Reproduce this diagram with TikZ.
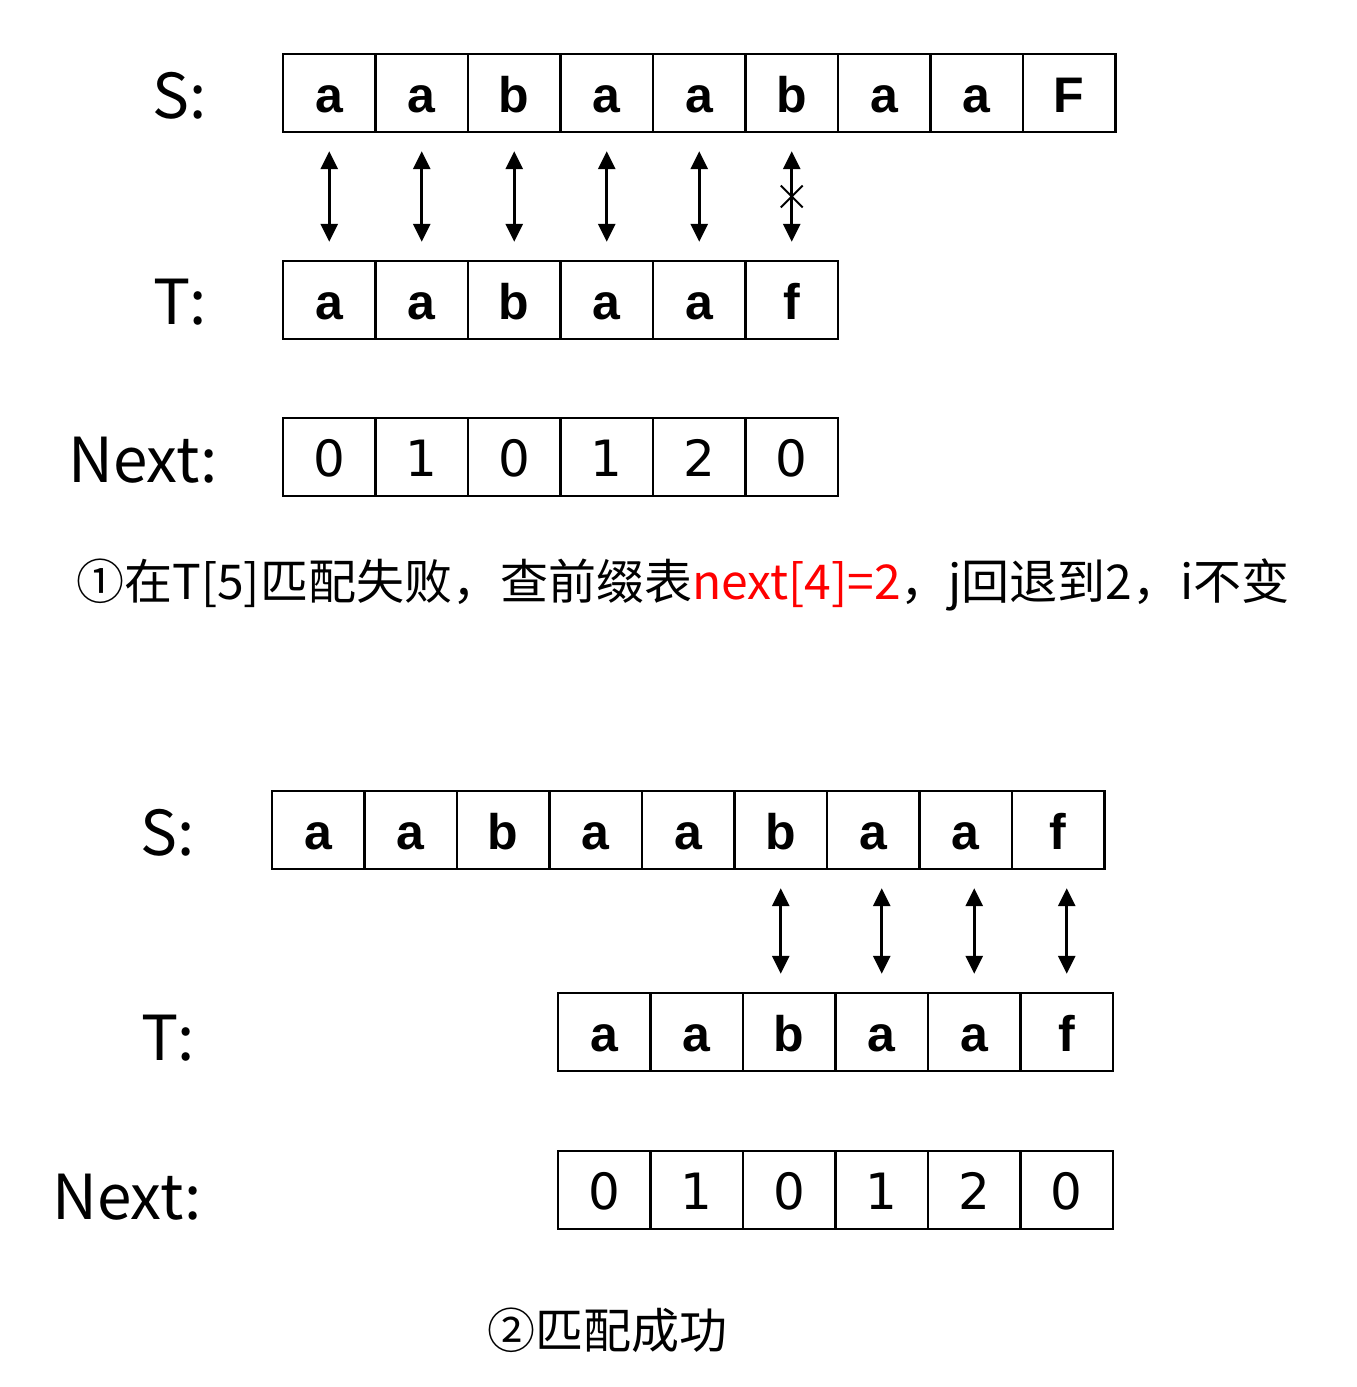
\documentclass[tikz,border=0pt]{standalone}
\usepackage{fontspec}
\setmainfont{Liberation Sans}
\newfontfamily\cjk{Noto Sans CJK SC}
\newfontfamily\numfont{DejaVu Sans}
\usetikzlibrary{arrows.meta,shapes.misc}

\tikzset{
  cell/.style={draw, line width=1.2pt, minimum width=46.25pt, minimum height=39pt,
    inner sep=0pt, text height=19pt, text depth=0pt, font=\fontsize{25}{30}\selectfont\bfseries},
  numcell/.style={cell, font=\fontsize{25}{30}\numfont},
  lbl/.style={font=\fontsize{31}{37}\cjk},
  captext/.style={font=\fontsize{24}{29}\cjk},
  match/.style={line width=1.5pt, {Triangle[width=8.5pt,length=9pt]}-{Triangle[width=8.5pt,length=9pt]},
    shorten <=9pt, shorten >=9pt},
  xmark/.style={cross out, draw, line width=0.9pt, minimum size=10pt, inner sep=0pt}
}

\begin{document}
\begin{tikzpicture}[x=0.5pt, y=-0.5pt]
  \useasboundingbox (0,0) rectangle (1356,1387);
  % labels
  \node[lbl] (sl) at (180,96) {S:};
  \node[lbl] (tl) at (180,302) {T:};
  \node[lbl] (nl) at (143,460) {Next:};
  % main string, pattern, next table
  \foreach \c [count=\i] in {a,a,b,a,a,b,a,a,F}
    \node[cell] (s\i) at ({329.25+92.5*(\i-1)},93) {\c};
  \foreach \c [count=\i] in {a,a,b,a,a,f}
    \node[cell] (t\i) at ({329.25+92.5*(\i-1)},300) {\c};
  \foreach \c [count=\i] in {0,1,0,1,2,0}
    \node[numcell] (n\i) at ({329.25+92.5*(\i-1)},457) {\c};
  % comparisons
  \foreach \i in {1,...,6}
    \draw[match] (s\i) -- (t\i);
  \path (s6) -- coordinate[pos=.5] (m6) (t6);
  \node[xmark] (x6) at (m6) {};
  \node[captext] (c1) at (683,585) {①在T[5]匹配失败，查前缀表\textcolor{red}{next[4]=2}，j回退到2，i不变};

  % labels
  \node[lbl] (bsl) at (168,833) {S:};
  \node[lbl] (btl) at (168,1038) {T:};
  \node[lbl] (bnl) at (127,1197) {Next:};
  % shifted pattern
  \foreach \c [count=\i] in {a,a,b,a,a,b,a,a,f}
    \node[cell] (bs\i) at ({318.25+92.5*(\i-1)},830) {\c};
  \foreach \c [count=\i] in {a,a,b,a,a,f}
    \node[cell] (bt\i) at ({604.25+92.5*(\i-1)},1032) {\c};
  \foreach \c [count=\i] in {0,1,0,1,2,0}
    \node[numcell] (bn\i) at ({604.25+92.5*(\i-1)},1190) {\c};
  % comparisons
  \draw[match] (bs6) -- (bs6 |- bt3.north);
  \foreach \i/\j in {4/7,5/8,6/9}
    \draw[match] (bt\i.north |- bs\j.south) -- (bt\i.north);
  \node[captext] (c2) at (607,1330) {②匹配成功};
\end{tikzpicture}
\end{document}
